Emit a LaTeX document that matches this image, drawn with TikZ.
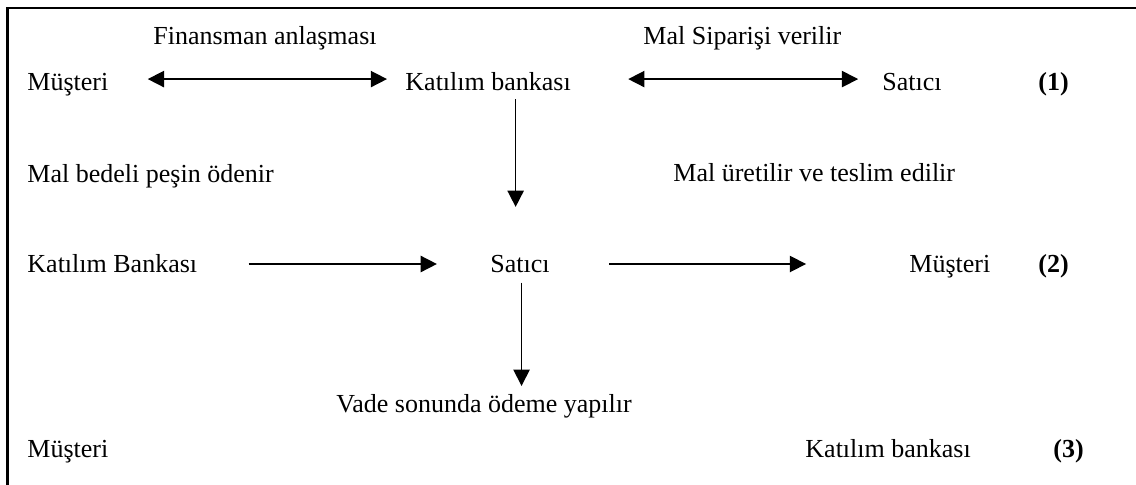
\documentclass[tikz,border=0pt]{standalone}
\usepackage{fontspec}
\setmainfont{Liberation Serif}
\usetikzlibrary{arrows.meta}
\begin{document}
\begin{tikzpicture}[x=0.4615pt, y=-0.4615pt,
  lbl/.style={anchor=base west, inner sep=0pt, font=\fontsize{12}{14}\selectfont},
  rowa/.style={lbl, text height=11pt, text depth=0pt},
  rowb/.style={lbl, text height=8.3pt, text depth=0pt},
  flow/.style={line width=0.75pt, -{Triangle[length=7.5pt,width=7.5pt]}},
  both/.style={flow, {Triangle[length=7.5pt,width=7.5pt]}-{Triangle[length=7.5pt,width=7.5pt]}}]
\useasboundingbox (0,0) rectangle (1136,485);

% open frame: top and left edges only
\draw[line width=1pt] (7.5,485) -- (7.5,8) -- (1136,8);

% row 1
\node[lbl] (fin) at (153,45) {Finansman anlaşması};
\node[lbl] (sip) at (643,45) {Mal Siparişi verilir};
\node[rowa] (m1) at (27,91) {Müşteri};
\node[rowa] (k1) at (405,91) {Katılım bankası};
\node[rowa] (s1) at (882,91) {Satıcı};
\node[rowa] (n1) at (1038,91) {\bfseries (1)};

% captions between rows 1 and 2
\node[lbl] (bed) at (27,183) {Mal bedeli peşin ödenir};
\node[lbl] (ure) at (673,182) {Mal üretilir ve teslim edilir};

% row 2
\node[rowb] (k2) at (27,273) {Katılım Bankası};
\node[rowb] (s2) at (490,273) {Satıcı};
\node[rowb] (m2) at (909,273) {Müşteri};
\node[rowb] (n2) at (1038,273) {\bfseries (2)};

% caption and row 3
\node[rowb] (vad) at (336,413) {Vade sonunda ödeme yapılır};
\node[lbl] (m3) at (27,458) {Müşteri};
\node[lbl] (k3) at (805,458) {Katılım bankası};
\node[lbl] (n3) at (1053,458) {\bfseries (3)};

% connectors
\draw[both, shorten <=18pt, shorten >=8.3pt] (m1.east) -- (k1.west);
\draw[both, shorten <=26.3pt, shorten >=11pt] (k1.east) -- (s1.west);
\draw[flow, shorten <=3.7pt, shorten >=22pt]
  ([xshift=12.7pt]k1.south) -- ([xshift=12.7pt]k1.south |- s2.north);
\draw[flow, shorten <=23.5pt, shorten >=24.5pt] (k2.east) -- (s2.west);
\draw[flow, shorten <=27.2pt, shorten >=47.5pt] (s2.east) -- (m2.west);
\draw[flow, shorten <=4.2pt, shorten >=4pt]
  ([xshift=0.7pt]s2.south) -- ([xshift=0.7pt]s2.south |- vad.north);
\end{tikzpicture}
\end{document}
